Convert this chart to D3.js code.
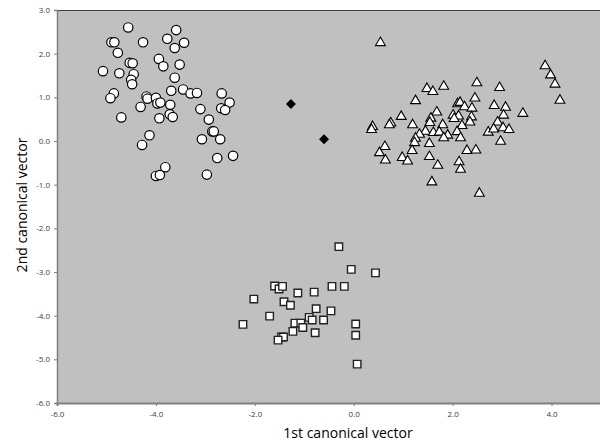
<!DOCTYPE html>
<html><head><meta charset="utf-8">
<script src="https://cdn.jsdelivr.net/npm/d3@7"></script>
<style>body{margin:0;background:#fff}svg{display:block}</style>
</head><body>
<svg id="c" width="600" height="444"></svg>
<script>
const xTicks = [-6, -4, -2, 0, 2, 4];
const yTicks = [3, 2, 1, 0, -1, -2, -3, -4, -5, -6];
const xTitle = "1st canonical vector";
const yTitle = "2nd canonical vector";

const circleX = [-4.56,-4.90,-4.84,-4.26,-3.59,-3.77,-3.43,-3.62,-4.77,-3.94,-3.85,-3.52,-4.53,-4.47,-5.07,-4.74,-4.45,-4.50,-4.48,-3.62,-4.85,-4.92,-4.19,-4.17,-4.00,-3.97,-3.91,-3.69,-3.45,-3.30,-3.17,-2.67,-2.51,-3.71,-4.31,-3.10,-2.68,-2.60,-4.70,-3.93,-3.72,-3.66,-2.93,-2.86,-2.83,-4.13,-3.07,-2.70,-4.28,-2.76,-2.44,-3.81,-4.00,-3.92,-2.97];
const circleY = [2.60,2.26,2.26,2.26,2.54,2.34,2.25,2.13,2.02,1.88,1.71,1.75,1.79,1.78,1.60,1.55,1.53,1.40,1.30,1.45,1.09,0.98,1.02,0.97,0.99,0.86,0.88,1.15,1.18,1.09,1.10,1.09,0.88,0.83,0.78,0.73,0.75,0.71,0.54,0.52,0.61,0.55,0.49,0.22,0.22,0.13,0.04,0.04,-0.09,-0.39,-0.34,-0.60,-0.80,-0.78,-0.77];

const triX = [0.54,3.87,3.98,4.07,4.17,2.49,2.95,1.48,1.60,1.82,1.25,2.45,2.10,2.15,2.24,2.39,2.84,3.07,3.42,3.03,0.96,1.68,2.01,2.12,2.38,1.56,0.75,0.72,1.19,1.54,1.80,2.03,2.35,2.19,2.91,0.38,0.36,1.45,1.61,1.73,1.90,2.09,2.16,2.72,2.83,3.02,3.14,1.33,1.82,1.25,1.23,1.53,2.97,0.63,0.52,1.18,2.29,2.47,1.53,0.98,0.64,1.09,1.70,2.13,2.16,1.58,2.54];
const triY = [2.25,1.72,1.51,1.30,0.93,1.33,1.22,1.20,1.13,1.25,0.92,0.98,0.85,0.88,0.78,0.75,0.81,0.77,0.63,0.59,0.56,0.66,0.59,0.57,0.55,0.52,0.41,0.37,0.37,0.42,0.37,0.51,0.43,0.35,0.43,0.33,0.26,0.22,0.19,0.20,0.13,0.21,0.07,0.20,0.27,0.30,0.26,0.15,0.07,0.06,-0.04,-0.06,-0.01,-0.13,-0.27,-0.22,-0.22,-0.21,-0.36,-0.38,-0.44,-0.46,-0.56,-0.48,-0.65,-0.94,-1.20];

const sqX = [-1.60,-1.51,-1.44,-2.02,-1.41,-1.28,-1.70,-2.24,-1.19,-1.07,-1.03,-1.23,-1.46,-1.42,-1.53,-1.13,-0.30,-0.05,0.44,-0.44,-0.19,-0.80,-0.76,-0.46,-0.90,-0.84,-0.61,-0.78,0.04,0.04,0.07];
const sqY = [-3.32,-3.39,-3.33,-3.62,-3.68,-3.76,-4.01,-4.20,-4.17,-4.17,-4.27,-4.36,-4.49,-4.49,-4.56,-3.48,-2.42,-2.94,-3.02,-3.33,-3.33,-3.46,-3.84,-3.89,-4.04,-4.10,-4.10,-4.39,-4.19,-4.45,-5.11];

const diaX = [-1.27, -0.60];
const diaY = [0.85, 0.04];

const svg = d3.select("#c");
const L = 57, R = 601, T = 10, B = 403;
const x = d3.scaleLinear().domain([-6, 5]).range([L, R]);
const y = d3.scaleLinear().domain([-6, 3]).range([B, T]);

svg.append("rect").attr("x", L).attr("y", T).attr("width", R - L).attr("height", B - T).attr("fill", "#c0c0c0");
svg.append("line").attr("x1", L).attr("x2", R).attr("y1", T + 0.5).attr("y2", T + 0.5).attr("stroke", "#404040").attr("stroke-width", 1.2);

const fontTick = "'Open Sans', 'DejaVu Sans', sans-serif";
const yAxis = svg.append("g").attr("transform", `translate(${L},0)`)
  .call(d3.axisLeft(y).tickValues(yTicks).tickFormat(d3.format(".1f")).tickSize(3).tickPadding(4));
const xAxis = svg.append("g").attr("transform", `translate(0,${B})`)
  .call(d3.axisBottom(x).tickValues(xTicks).tickFormat(d3.format(".1f")).tickSize(3).tickPadding(5));
[yAxis, xAxis].forEach(g => {
  g.select(".domain").attr("stroke", "#808080");
  g.selectAll(".tick line").attr("stroke", "#808080");
  g.selectAll("text").attr("fill", "#404040").style("font-family", fontTick).style("font-size", "8px");
});
xAxis.select(".domain").attr("stroke-width", 2);
yAxis.select(".domain").attr("stroke-width", 1.5);
svg.selectAll(".tick text").text(d => d.toFixed(1));

const plot = svg.append("g");

plot.selectAll(".circ").data(circleX.map((v, i) => [v, circleY[i]])).join("circle")
  .attr("cx", d => x(d[0])).attr("cy", d => y(d[1])).attr("r", 4.7)
  .attr("fill", "#fff").attr("stroke", "#000").attr("stroke-width", 1.2);

const triSym = d3.symbol().type(d3.symbolTriangle).size(42);
plot.selectAll(".tri").data(triX.map((v, i) => [v, triY[i]])).join("path")
  .attr("d", triSym).attr("transform", d => `translate(${x(d[0])},${y(d[1])})`)
  .attr("fill", "#fff").attr("stroke", "#000").attr("stroke-width", 1.1);

const sqSym = d3.symbol().type(d3.symbolSquare).size(56);
plot.selectAll(".sq").data(sqX.map((v, i) => [v, sqY[i]])).join("path")
  .attr("d", sqSym).attr("transform", d => `translate(${x(d[0])},${y(d[1])})`)
  .attr("fill", "#fff").attr("stroke", "#222").attr("stroke-width", 1.4);

const diaSym = d3.symbol().type(d3.symbolSquare).size(50);
plot.selectAll(".dia").data(diaX.map((v, i) => [v, diaY[i]])).join("path")
  .attr("d", diaSym).attr("transform", d => `translate(${x(d[0])},${y(d[1])}) rotate(45)`)
  .attr("fill", "#000");

const fontTitle = "'Open Sans', 'Liberation Sans', sans-serif";
svg.append("text").attr("x", 348).attr("y", 438).attr("text-anchor", "middle")
  .style("font-family", fontTitle).style("font-size", "14px").attr("fill", "#000").text(xTitle);
svg.append("text").attr("transform", "translate(27,205) rotate(-90)").attr("text-anchor", "middle")
  .style("font-family", fontTitle).style("font-size", "14px").attr("fill", "#000").text(yTitle);
</script>
</body></html>
